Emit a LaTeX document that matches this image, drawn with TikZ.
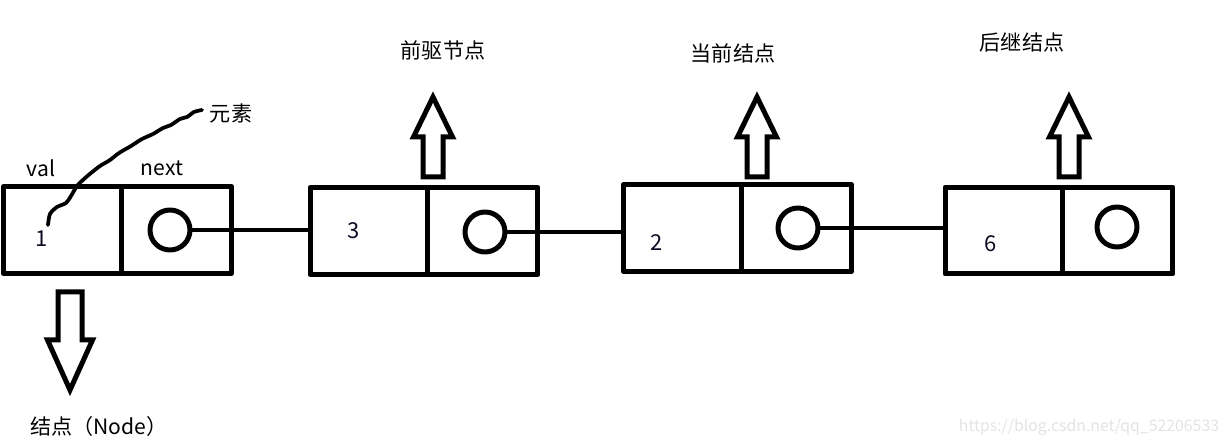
\documentclass[tikz,border=0pt]{standalone}
\usepackage{fontspec}
\setmainfont{Noto Sans CJK SC}
\usetikzlibrary{positioning}
\definecolor{numblue}{RGB}{12,12,35}
\tikzset{
	valcell/.style={draw, line width=0.1cm, minimum width=2.36cm, minimum height=1.74cm, inner sep=0pt, outer sep=0pt},
	nextcell/.style={draw, line width=0.1cm, minimum width=2.2cm, minimum height=1.74cm, inner sep=0pt, outer sep=0pt},
	ptr/.style={draw, circle, line width=0.1cm, minimum size=0.8cm, inner sep=0pt, outer sep=0pt},
	link/.style={line width=0.08cm},
	tag/.style={font=\fontsize{12}{14}\selectfont, inner sep=0pt},
	num/.style={font=\fontsize{12.5}{14}\selectfont, text=numblue, inner sep=0pt},
	hollow/.style={line width=0.1cm, line join=miter, fill=white},
	uparrow/.pic={\draw[hollow] (-10,0)--(-10,-40)--(-19.5,-40)--(0,-80)--(19.5,-40)--(10,-40)--(10,0)--cycle;},
	downarrow/.pic={\draw[hollow] (-12,0)--(-12,48)--(-22.5,48)--(0,98)--(22.5,48)--(12,48)--(12,0)--cycle;}
}
\begin{document}
\begin{tikzpicture}[x=0.02cm, y=-0.02cm, line join=round, line cap=round]
	\useasboundingbox (0,0) rectangle (1221,445);
	\node[valcell] (v1) at (62.5,230) {};
	\node[nextcell, right=0pt of v1] (x1) {};
	\node[valcell] (v2) at (369,231) {};
	\node[nextcell, right=0pt of v2] (x2) {};
	\node[valcell] (v3) at (682.5,228) {};
	\node[nextcell, right=0pt of v3] (x3) {};
	\node[valcell] (v4) at (1004,230.5) {};
	\node[nextcell, right=0pt of v4] (x4) {};
	\node[ptr] (c1) at (170,230) {};
	\node[ptr] (c2) at (485,232) {};
	\node[ptr] (c3) at (798,228) {};
	\node[ptr] (c4) at (1117,227) {};
	\node[num] (d1) at (42,239) {1};
	\node[num] (d2) at (354,231) {3};
	\node[num] (d3) at (657,243) {2};
	\node[num] (d4) at (991,244) {6};
	\draw[link] (c1.east) -- (c1.east -| v2.west);
	\draw[link] (c2.east) -- (c2.east -| v3.west);
	\draw[link] (c3.east) -- (c3.east -| v4.west);
	\node[tag] (val) at (41,168) {val};
	\node[tag] (nxt) at (162,168) {next};
	\node[tag] (elem) at (231,113) {元素};
	\draw[line width=0.075cm] plot[smooth] coordinates {(48,225) (50,214) (57,207) (66,203) (71,196) (77,186) (84,179) (91,173) (100,166) (110,160) (119,153) (131,146) (142,139) (153,134) (163,128) (171,125) (180,119) (187,117) (194,112) (202,110)};
	\pic at (433,177) {uparrow};
	\pic at (757,177) {uparrow};
	\pic at (1069,177) {uparrow};
	\pic at (70,292) {downarrow};
	\node[tag] (prev) at (443,50) {前驱节点};
	\node[tag] (curr) at (733,53) {当前结点};
	\node[tag] (succ) at (1022,43) {后继结点};
	\node[tag] (lbl) at (99,426) {结点（Node）};
	\node[font=\fontsize{9}{11}\selectfont, text=gray!22, inner sep=0pt] (mark) at (1089,427) {https://blog.csdn.net/qq\_52206533};
\end{tikzpicture}
\end{document}
